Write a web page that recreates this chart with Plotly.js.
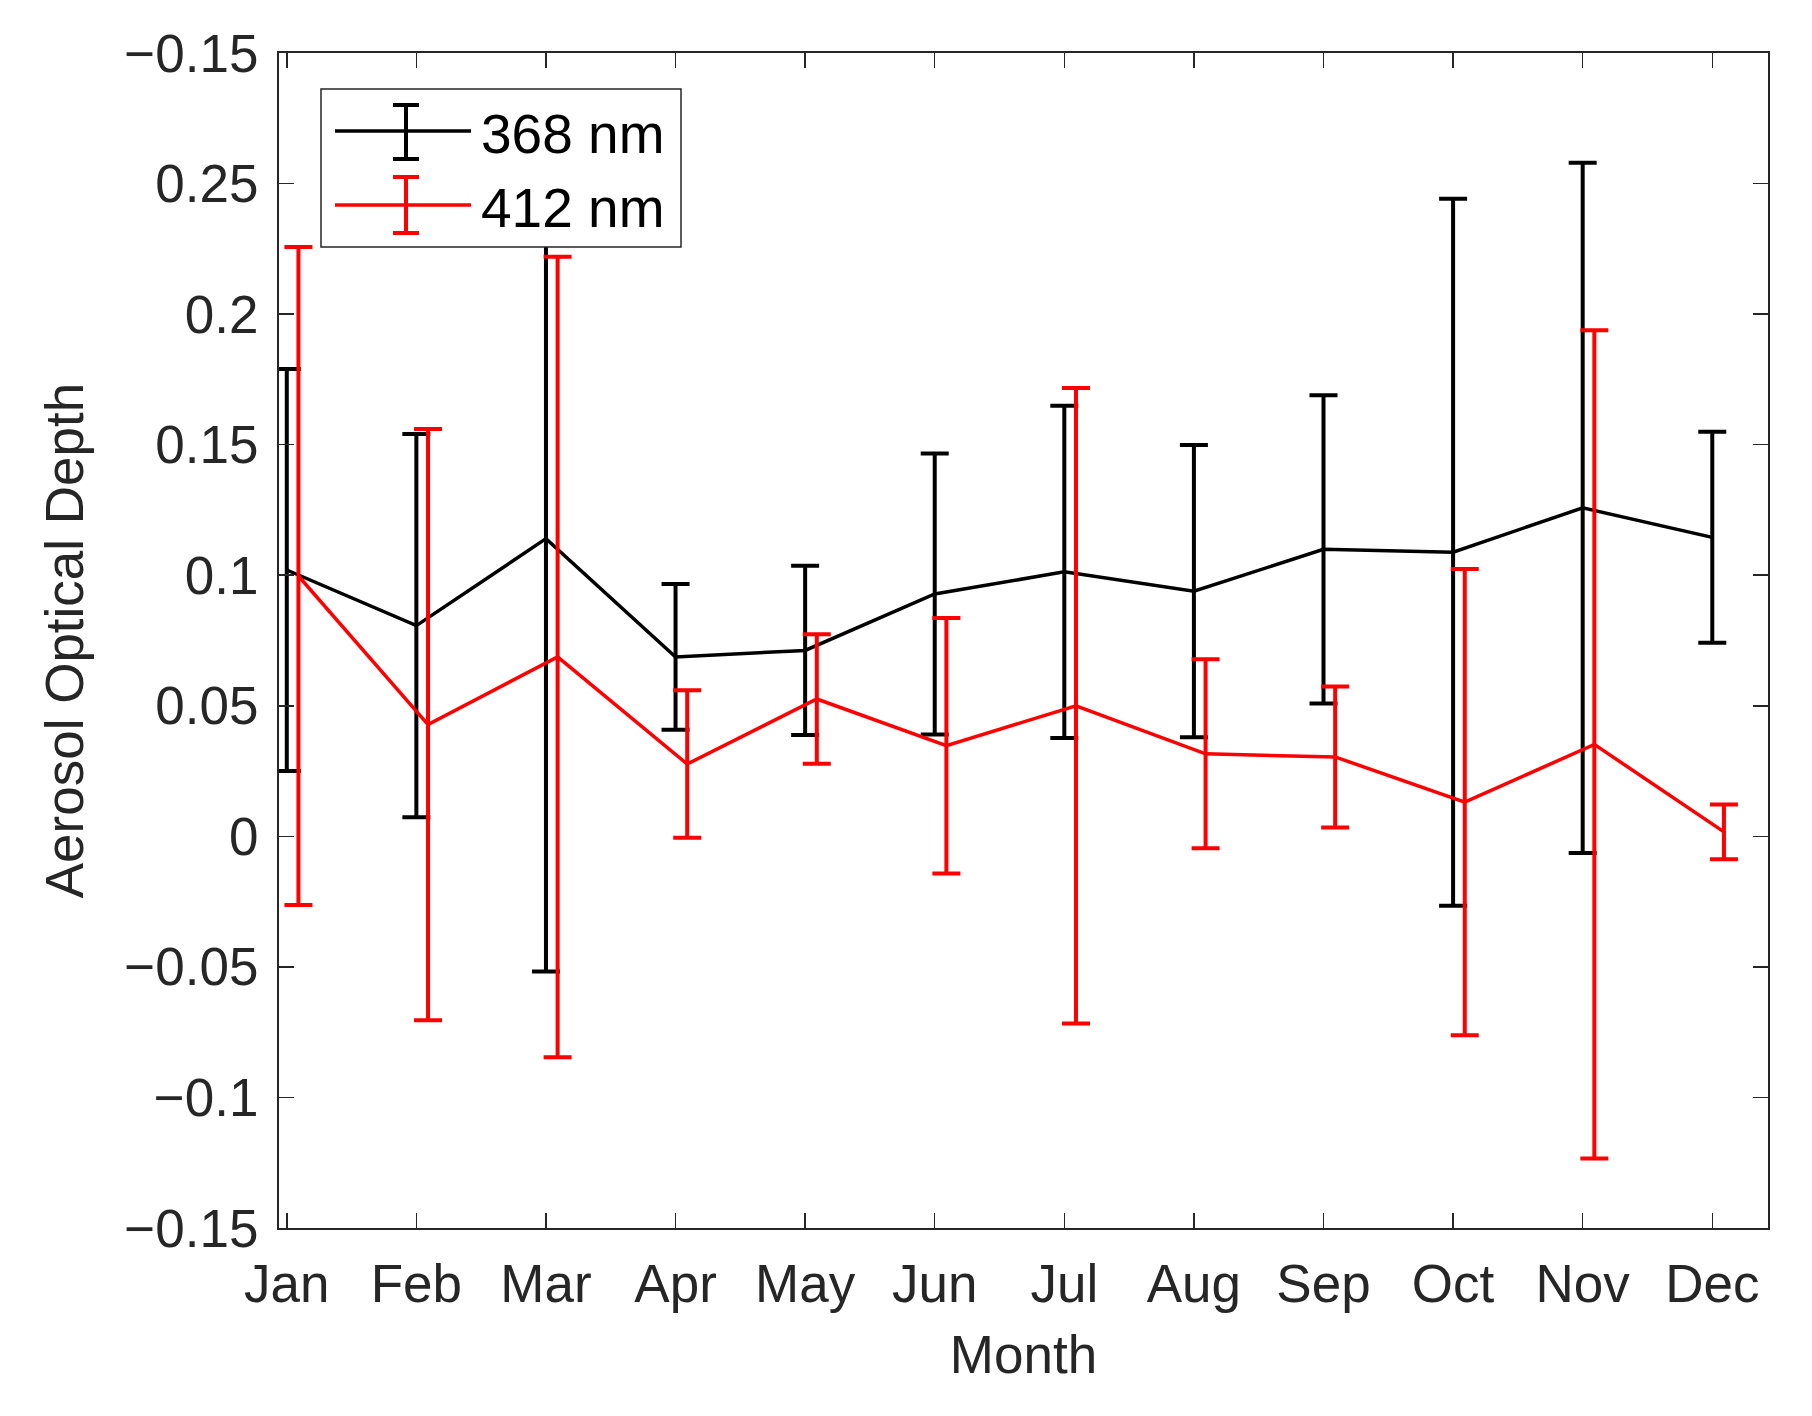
<!DOCTYPE html>
<html>
<head>
<meta charset="utf-8">
<script src="https://cdn.plot.ly/plotly-3.0.1.min.js"></script>
<style>
  html, body { margin: 0; padding: 0; background: #ffffff; }
  #chart { width: 1812px; height: 1416px; }
</style>
</head>
<body>
<div id="chart"></div>
<script>
// ---- data ----
const months = ['Jan','Feb','Mar','Apr','May','Jun','Jul','Aug','Sep','Oct','Nov','Dec'];
const aod368 = [0.102, 0.0807, 0.114, 0.0687, 0.0712, 0.0928, 0.1013, 0.0939, 0.1099, 0.1088, 0.1258, 0.1145];
const err368 = [0.077, 0.0734, 0.1658, 0.0279, 0.0324, 0.0538, 0.0636, 0.056, 0.059, 0.1354, 0.1322, 0.0404];
const aod412 = [0.0997, 0.0428, 0.0687, 0.0277, 0.0526, 0.0347, 0.050, 0.0316, 0.0304, 0.0131, 0.0352, 0.0017];
const err412 = [0.126, 0.1132, 0.1533, 0.0282, 0.0248, 0.0489, 0.1217, 0.0362, 0.027, 0.0893, 0.1586, 0.0105];
const seriesNames = ['368 nm', '412 nm'];
const yTickVals = [-0.15, -0.1, -0.05, 0, 0.05, 0.1, 0.15, 0.2, 0.25, 0.3];
const yTickText = ['\u22120.15', '\u22120.1', '\u22120.05', '0', '0.05', '0.1', '0.15', '0.2', '0.25', '\u22120.15'];

// ---- layout constants ----
const FONT = 'Arial, "Liberation Sans", Helvetica, sans-serif';
const TXT = '#262626';
const FS = 53;
const xIdx = months.map((m, i) => i + 1);
const redShift = 0.09;
const xRed = xIdx.map(v => v + redShift);

const traces = [
  {
    x: xIdx, y: aod368, name: seriesNames[0], type: 'scatter', mode: 'lines',
    line: { color: '#000000', width: 3.5 },
    error_y: { type: 'data', array: err368, visible: true, color: '#000000', thickness: 4, width: 14 },
    showlegend: false
  },
  {
    x: xRed, y: aod412, name: seriesNames[1], type: 'scatter', mode: 'lines',
    line: { color: '#ff0000', width: 3.5 },
    error_y: { type: 'data', array: err412, visible: true, color: '#ff0000', thickness: 4, width: 14 },
    showlegend: false
  }
];

// manual MATLAB-style legend (pixel -> paper conversion)
const PL = 279, PR = 1768, PT = 53, PB = 1228;
const px = v => (v - PL) / (PR - PL);
const py = v => (PB - v) / (PB - PT);
const shapes = [];
const annotations = [];
shapes.push({ type: 'rect', xref: 'paper', yref: 'paper', x0: px(321), x1: px(681), y0: py(247), y1: py(89),
  line: { color: TXT, width: 1.5 }, fillcolor: '#ffffff', layer: 'above' });
const legRows = [
  { y: 131, top: 105, bot: 159, color: '#000000', text: seriesNames[0] },
  { y: 205, top: 177, bot: 233, color: '#ff0000', text: seriesNames[1] }
];
legRows.forEach(r => {
  shapes.push({ type: 'line', xref: 'paper', yref: 'paper', x0: px(335), x1: px(471), y0: py(r.y), y1: py(r.y), line: { color: r.color, width: 3.5 }, layer: 'above' });
  shapes.push({ type: 'line', xref: 'paper', yref: 'paper', x0: px(406), x1: px(406), y0: py(r.top), y1: py(r.bot), line: { color: r.color, width: 4 }, layer: 'above' });
  shapes.push({ type: 'line', xref: 'paper', yref: 'paper', x0: px(393), x1: px(419), y0: py(r.top), y1: py(r.top), line: { color: r.color, width: 4 }, layer: 'above' });
  shapes.push({ type: 'line', xref: 'paper', yref: 'paper', x0: px(393), x1: px(419), y0: py(r.bot), y1: py(r.bot), line: { color: r.color, width: 4 }, layer: 'above' });
  annotations.push({ xref: 'paper', yref: 'paper', x: px(479), y: py(r.y + 3), xanchor: 'left', yanchor: 'middle',
    text: r.text, showarrow: false, font: { family: FONT, size: 55, color: '#000000' } });
});

const layout = {
  width: 1812, height: 1416,
  margin: { l: PL, r: 1812 - PR, t: PT, b: 1416 - PB, pad: 0 },
  paper_bgcolor: '#ffffff', plot_bgcolor: '#ffffff',
  font: { family: FONT, size: FS, color: TXT },
  showlegend: false,
  xaxis: {
    range: [0.94, 12.43],
    tickmode: 'array', tickvals: xIdx, ticktext: months,
    ticks: 'inside', ticklen: 15, tickwidth: 1.5, tickcolor: TXT,
    showline: true, linecolor: TXT, linewidth: 2, mirror: 'ticks',
    showgrid: false, zeroline: false,
    ticklabelstandoff: 8,
    tickfont: { family: FONT, size: FS, color: TXT },
    title: { text: 'Month', font: { family: FONT, size: FS, color: TXT }, standoff: 24 },
    automargin: false
  },
  yaxis: {
    range: [-0.15, 0.3],
    tickmode: 'array', tickvals: yTickVals, ticktext: yTickText,
    ticks: 'inside', ticklen: 15, tickwidth: 1.5, tickcolor: TXT,
    showline: true, linecolor: TXT, linewidth: 2, mirror: 'ticks',
    showgrid: false, zeroline: false,
    ticklabelstandoff: 8,
    tickfont: { family: FONT, size: FS, color: TXT },
    title: { text: 'Aerosol Optical Depth', font: { family: FONT, size: FS, color: TXT }, standoff: 24 },
    automargin: false
  },
  shapes: shapes,
  annotations: annotations
};

Plotly.newPlot('chart', traces, layout, { displayModeBar: false, staticPlot: true });
</script>
</body>
</html>
